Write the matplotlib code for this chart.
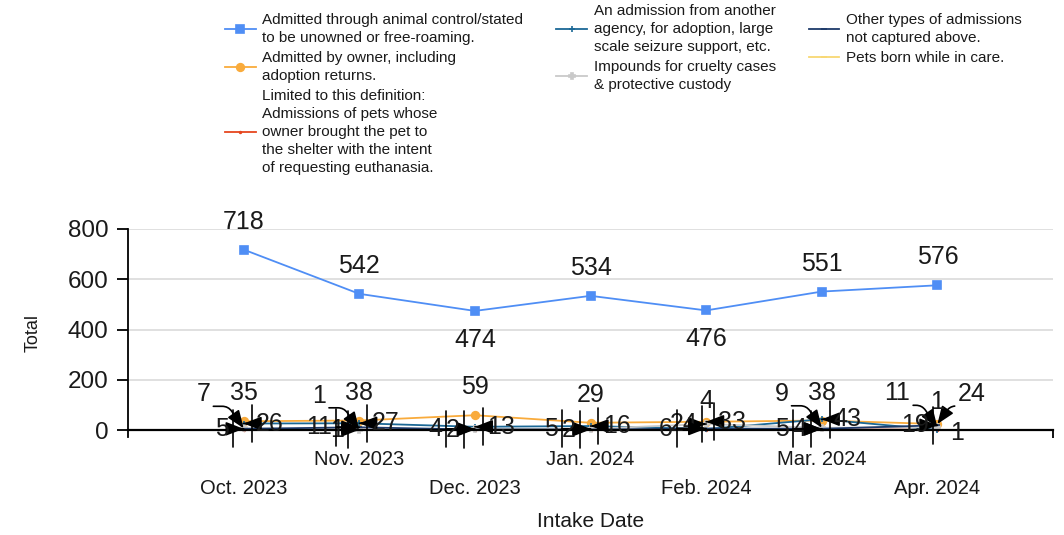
import numpy as np
import matplotlib
matplotlib.use('Agg')
import matplotlib.pyplot as plt

plt.rcParams['font.family'] = ['Liberation Sans', 'DejaVu Sans']

#%% data
months = ['Oct. 2023', 'Nov. 2023', 'Dec. 2023', 'Jan. 2024',
          'Feb. 2024', 'Mar. 2024', 'Apr. 2024']

control    = [718, 542, 474, 534, 476, 551, 576]
owner      = [35, 38, 59, 29, 33, 38, 24]
euthanasia = [0, 1, 0, 0, 0, 4, 1]
agency     = [26, 27, 13, 16, 4, 43, 1]
cruelty    = [7, 1, 4, 5, 24, 9, 11]
other      = [5, 11, 2, 2, 6, 5, 19]
born       = [0, 0, 0, 0, 0, 0, 0]

names = ['Admitted through animal control/stated\nto be unowned or free-roaming.',
         'Admitted by owner, including\nadoption returns.',
         'Limited to this definition:\nAdmissions of pets whose\nowner brought the pet to\nthe shelter with the intent\nof requesting euthanasia.',
         'An admission from another\nagency, for adoption, large\nscale seizure support, etc.',
         'Impounds for cruelty cases\n& protective custody',
         'Other types of admissions\nnot captured above.',
         'Pets born while in care.']

#%% style
colors  = ['#4f8ef5', '#f9ab3c', '#e6461f', '#1b6896', '#c9c9c9', '#1e3a6a', '#f8d873']
markers = ['s', 'o', '.', '+', 'P', '_', '_']
msizes  = [5.5, 5.5, 2.5, 5, 5, 5, 5]

# where each value label goes
label_pos = [
    ['up', 'up', 'down', 'up', 'down', 'up', 'up'],
    ['up', 'up', 'up', 'up', 'r', 'up', 'ur'],
    [None, 'l', None, None, None, 'l', 'up'],
    ['r', 'r', 'r', 'r', 'up', 'r', 'r0'],
    ['ul', 'ul', 'll', 'll', 'l', 'ul', 'ul'],
    ['l', 'll', 'l', 'l', 'll', 'll', 'l'],
    [None] * 7,
]
offsets = {'up': (0, 28), 'down': (0, -29), 'r': (26, 0), 'r0': (20, -3),
           'l': (-22, 0), 'll': (-40, 0), 'ul': (-40, 34), 'ur': (34, 30)}

series = [control, owner, euthanasia, agency, cruelty, other, born]
x = np.arange(len(months))
txtc = '#1a1a1a'

fig = plt.figure(figsize=(10.64, 5.35), dpi=100)
ax = fig.add_axes([0.1203, 0.183, 0.8694, 0.389])

for k, vals in enumerate(series):
    ax.plot(x, vals, color=colors[k], lw=1.3, marker=markers[k],
            ms=msizes[k], mew=1.2, zorder=3 if k == 0 else (1.5 if k == 2 else 2),
            clip_on=False, label=names[k])

def annot(xi, yi, txt, pos):
    dx, dy = offsets[pos]
    kw = dict(xy=(xi, yi), xytext=(dx, dy), textcoords='offset pixels',
              ha='center', va='center', fontsize=18, color=txtc, zorder=5)
    if pos in ('l', 'll', 'r'):
        ax.annotate(txt, arrowprops=dict(arrowstyle='-|>,head_length=0.9,head_width=0.35',
                                         color='black', lw=1.2, mutation_scale=12,
                                         shrinkA=1, shrinkB=0), **kw)
        kw['color'] = 'none'
        ax.annotate(txt, arrowprops=dict(arrowstyle=']-,widthA=1.1,lengthA=0',
                                         color='black', lw=1.2, mutation_scale=12,
                                         shrinkA=1, shrinkB=0), **kw)
    elif pos in ('ul', 'ur'):
        ang = 125 if pos == 'ul' else 55
        ax.annotate(txt, arrowprops=dict(arrowstyle='-|>,head_length=0.9,head_width=0.35',
                                         color='black', lw=1.2, mutation_scale=12,
                                         connectionstyle='angle,angleA=0,angleB=%d,rad=6' % ang,
                                         relpos=(0, 0) if pos == 'ul' else (1, 0),
                                         shrinkA=0, shrinkB=0), **kw)
    else:
        ax.annotate(txt, **kw)

for k, vals in enumerate(series):
    for i, v in enumerate(vals):
        if label_pos[k][i] is not None:
            annot(x[i], v, str(v), label_pos[k][i])

#%% axes
ax.set_xlim(-1, 7)
ax.set_ylim(-28, 800)
ax.set_yticks([0, 200, 400, 600, 800])
ax.tick_params(axis='y', labelsize=17.5, length=8, width=1.3, pad=6, colors='black',
               labelcolor=txtc)
ax.grid(axis='y', color='#dddddd', lw=1.3)
ax.set_axisbelow(True)

for s in ['top', 'right']:
    ax.spines[s].set_visible(False)
ax.spines['bottom'].set_position(('data', 0))
ax.spines['bottom'].set_linewidth(1.6)
ax.spines['left'].set_linewidth(1.3)

ax.set_xticks(x)
ax.set_xticklabels(months, fontsize=14.5, color=txtc)
ax.tick_params(axis='x', length=0)
ax.set_xticks([7], minor=True)
ax.tick_params(axis='x', which='minor', length=6, width=1.3, labelbottom=False)

ax.set_xlabel('Intake Date', fontsize=15, color=txtc)
ax.xaxis.set_label_coords(0.5, -0.36)
ax.set_ylabel('Total', fontsize=13, color=txtc)
ax.yaxis.set_label_coords(-0.093, 0.5)

leg = fig.legend(loc='upper left', bbox_to_anchor=(0.2115, 0.993), ncol=3,
                 frameon=False, fontsize=11, borderpad=0, borderaxespad=0,
                 handlelength=2.0, handletextpad=0.45, columnspacing=2.15,
                 labelspacing=0.4, labelcolor=txtc)
for t in leg.get_texts():
    t.set_linespacing(1.37)

# staggered month labels
for i, t in enumerate(ax.xaxis.get_major_ticks()):
    t.set_pad(14 if i % 2 else 35)

fig.savefig('out.png', dpi=100)
